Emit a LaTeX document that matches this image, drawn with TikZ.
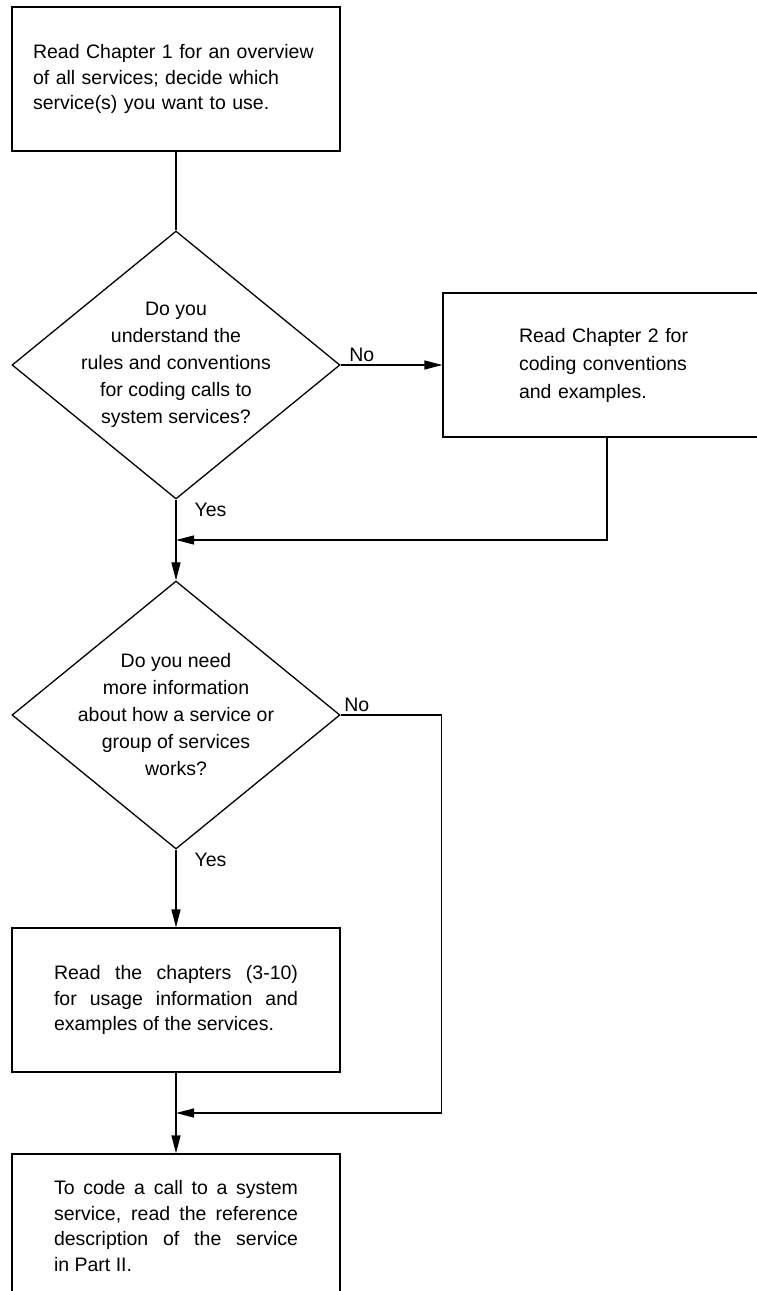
\documentclass[tikz,border=0pt]{standalone}
\usepackage{fontspec}
\setmainfont{Liberation Sans}
\usetikzlibrary{shapes.geometric,arrows.meta,calc}

\begin{document}
\begin{tikzpicture}[x=1pt,y=-1pt,>={Triangle[length=18pt,width=9pt]},
                    line width=1.3pt,node distance=286pt]
  \tikzstyle{txt}=[font=\fontsize{19.5}{25.5}\selectfont]
  \tikzstyle{box}=[rectangle,draw=black,fill=white,txt,inner sep=0pt,
                   minimum width=328pt,minimum height=144pt]
  \tikzstyle{decision}=[diamond,draw=black,inner sep=0pt,
                        minimum width=328pt,minimum height=268pt]
  \tikzstyle{question}=[align=center,font=\fontsize{19.5}{27}\selectfont]
  \tikzstyle{answer}=[txt,inner sep=3pt]

  \useasboundingbox (0,0) rectangle (757,1291);
  \clip (0,0) rectangle (757,1291);

  \node[box,align=left,text width=286pt] (read1) at (176,79)
    {Read Chapter 1 for an overview\\of all services; decide which\\service(s) you want to use.};
  \node[decision] (ask1) [below of=read1] {};
  \node[question] (ask1text) at (ask1)
    {Do you\\understand the\\rules and conventions\\for coding calls to\\system services?};
  \node[box,align=left,text width=176pt,font=\fontsize{19.5}{28}\selectfont] (read2)
    [right of=ask1,node distance=431pt]
    {Read Chapter 2 for\\coding conventions\\and examples.};
  \node[decision] (ask2) [below of=ask1,node distance=350pt] {};
  \node[question] (ask2text) at (ask2)
    {Do you need\\more information\\about how a service or\\group of services\\works?};
  \node[box,align=justify,text width=244pt] (read3) [below of=ask2,node distance=285pt]
    {Read the chapters (3-10)\linebreak for usage information and\linebreak examples of the services.};
  \node[box,align=justify,text width=244pt] (read4) [below of=read3,node distance=226pt]
    {To code a call to a system\linebreak service, read the reference\linebreak description of the service\linebreak in Part II.};

  \coordinate (join1) at ($(ask1.south)!0.5!(ask2.north)$);
  \coordinate (join2) at ($(read3.south)!0.5!(read4.north)$);
  \coordinate (turn2) at ([xshift=101pt]ask2.east);

  \draw (read1) -- (ask1);
  \draw[->] (ask1) -- node[answer,anchor=south west,pos=0,xshift=5pt] {No} (read2);
  \draw[->] (ask1) -- node[answer,anchor=north west,pos=0,xshift=15pt] {Yes} (ask2);
  \draw[->] (read2.south) |- (join1);
  \draw[->] (ask2.east) -- node[answer,anchor=south west,pos=0] {No} (turn2) |- (join2);
  \draw[->] (ask2) -- node[answer,anchor=north west,pos=0,xshift=15pt] {Yes} (read3);
  \draw[->] (read3) -- (read4);
\end{tikzpicture}
\end{document}
